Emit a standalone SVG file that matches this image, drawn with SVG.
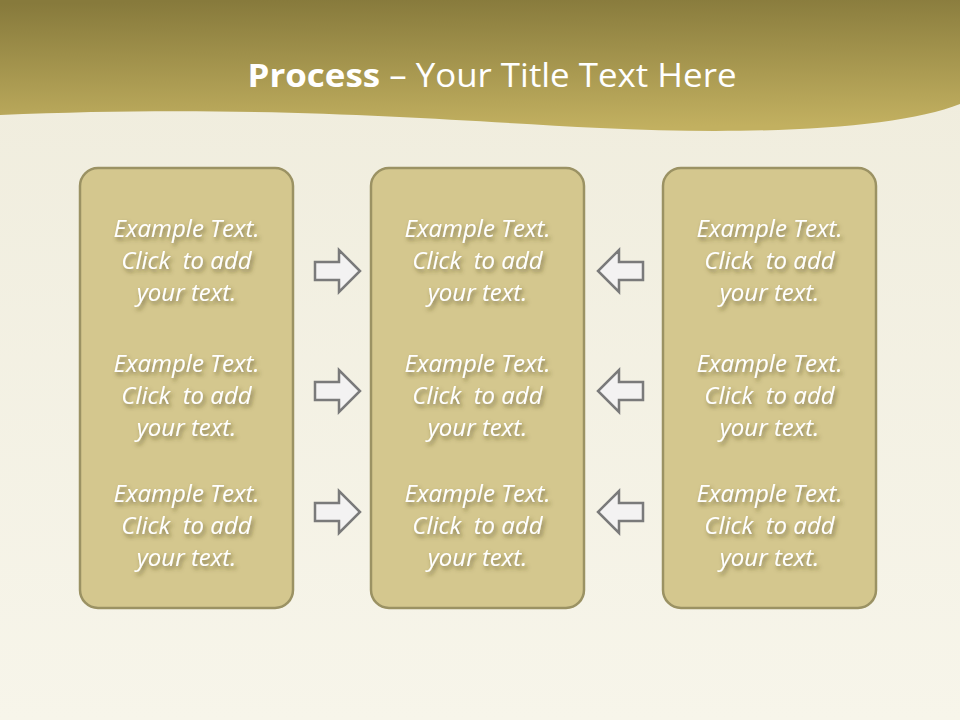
<svg xmlns="http://www.w3.org/2000/svg" width="960" height="720" viewBox="0 0 960 720">
<defs>
<linearGradient id="bg" x1="0" y1="0" x2="0" y2="1">
<stop offset="0" stop-color="#efecdc"/><stop offset="1" stop-color="#f7f5ea"/>
</linearGradient>
<linearGradient id="hdr" x1="0.3" y1="0" x2="0.4" y2="1">
<stop offset="0" stop-color="#877a3c"/><stop offset="1" stop-color="#c2b060"/>
</linearGradient>
<filter id="sh" x="-20%" y="-30%" width="140%" height="170%">
<feDropShadow dx="2" dy="3" stdDeviation="2" flood-color="#4a4020" flood-opacity="0.6"/>
</filter>
<style>
.box{fill:#d4c78e;stroke:#9b9263;stroke-width:2.5}
.t{font-family:"Open Sans","Noto Sans",sans-serif;font-style:italic;font-size:24px;fill:#ffffff;text-anchor:middle;white-space:pre}
.arr{fill:#f3f2f2;stroke:#7a7a7a;stroke-width:2.5;stroke-linejoin:miter}
</style>
</defs>
<rect width="960" height="720" fill="url(#bg)"/>
<path d="M0,0 H960 V104 C900,128 760,136 600,128 C440,120 260,104 0,115 Z" fill="url(#hdr)"/>
<text x="492" y="87" font-family="'Open Sans','Noto Sans',sans-serif" font-size="32" fill="#ffffff" text-anchor="middle" textLength="489" lengthAdjust="spacingAndGlyphs"><tspan font-weight="bold">Process</tspan> – Your Title Text Here</text>

<g id="box-left">
<rect class="box" x="80" y="168" width="213" height="440" rx="18"/>
<g filter="url(#sh)">
<text class="t" x="186.5" y="237">Example Text.</text><text class="t" x="186.5" y="269" xml:space="preserve">Click  to add</text><text class="t" x="186.5" y="301">your text.</text>
<text class="t" x="186.5" y="372">Example Text.</text><text class="t" x="186.5" y="404" xml:space="preserve">Click  to add</text><text class="t" x="186.5" y="436">your text.</text>
<text class="t" x="186.5" y="502">Example Text.</text><text class="t" x="186.5" y="534" xml:space="preserve">Click  to add</text><text class="t" x="186.5" y="566">your text.</text>
</g>
</g>
<g id="box-middle">
<rect class="box" x="371" y="168" width="213" height="440" rx="18"/>
<g filter="url(#sh)">
<text class="t" x="477.5" y="237">Example Text.</text><text class="t" x="477.5" y="269" xml:space="preserve">Click  to add</text><text class="t" x="477.5" y="301">your text.</text>
<text class="t" x="477.5" y="372">Example Text.</text><text class="t" x="477.5" y="404" xml:space="preserve">Click  to add</text><text class="t" x="477.5" y="436">your text.</text>
<text class="t" x="477.5" y="502">Example Text.</text><text class="t" x="477.5" y="534" xml:space="preserve">Click  to add</text><text class="t" x="477.5" y="566">your text.</text>
</g>
</g>
<g id="box-right">
<rect class="box" x="663" y="168" width="213" height="440" rx="18"/>
<g filter="url(#sh)">
<text class="t" x="769.5" y="237">Example Text.</text><text class="t" x="769.5" y="269" xml:space="preserve">Click  to add</text><text class="t" x="769.5" y="301">your text.</text>
<text class="t" x="769.5" y="372">Example Text.</text><text class="t" x="769.5" y="404" xml:space="preserve">Click  to add</text><text class="t" x="769.5" y="436">your text.</text>
<text class="t" x="769.5" y="502">Example Text.</text><text class="t" x="769.5" y="534" xml:space="preserve">Click  to add</text><text class="t" x="769.5" y="566">your text.</text>
</g>
</g>
<g id="connectors">
<path class="arr" d="M315,262 H339 V250 L360,271 L339,292 V280 H315 Z"/>
<path class="arr" d="M315,382 H339 V370 L360,391 L339,412 V400 H315 Z"/>
<path class="arr" d="M315,503 H339 V491 L360,512 L339,533 V521 H315 Z"/>
<path class="arr" d="M643,262 H619 V250 L598,271 L619,292 V280 H643 Z"/>
<path class="arr" d="M643,382 H619 V370 L598,391 L619,412 V400 H643 Z"/>
<path class="arr" d="M643,503 H619 V491 L598,512 L619,533 V521 H643 Z"/>
</g>
</svg>
